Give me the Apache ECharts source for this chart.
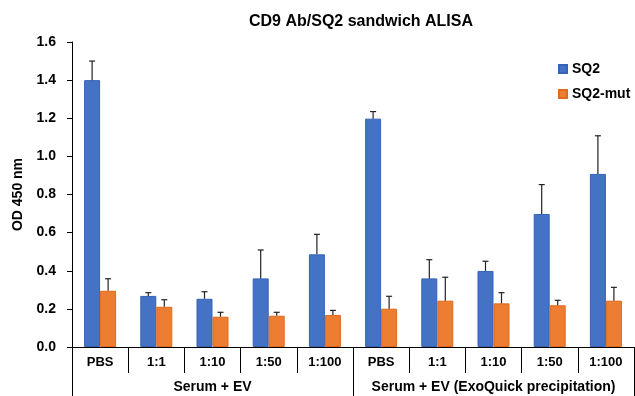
<!DOCTYPE html>
<html>
<head>
<meta charset="utf-8">
<script src="https://cdn.jsdelivr.net/npm/echarts@6/dist/echarts.min.js"></script>
<style>html,body{margin:0;padding:0;background:#fff}#c{width:635px;height:396px}</style>
</head>
<body>
<div id="c"></div>
<script>
var categories = ['PBS','1:1','1:10','1:50','1:100','PBS','1:1','1:10','1:50','1:100'];
var groups = ['Serum + EV','Serum + EV (ExoQuick precipitation)'];
var sq2 = [1.40,0.268,0.253,0.36,0.486,1.198,0.36,0.399,0.698,0.908];
var sq2Err = [0.10,0.017,0.037,0.149,0.105,0.037,0.098,0.051,0.154,0.20];
var sq2mut = [0.295,0.211,0.159,0.164,0.168,0.201,0.243,0.229,0.219,0.243];
var sq2mutErr = [0.063,0.037,0.023,0.018,0.024,0.065,0.123,0.056,0.026,0.07];
var yTicks = {min:0, max:1.6, interval:0.2};

var BAR_W = 16;
var FONT = 'Liberation Sans, Arial, sans-serif';
function errData(vals, errs){ return vals.map(function(v,i){ return [i, v, errs[i]]; }); }
function errRender(side){
  return function(params, api){
    var i = api.value(0), v = api.value(1), e = api.value(2);
    var base = api.coord([i, v]);
    var top = api.coord([i, v + e]);
    var x = base[0] + side * BAR_W / 2;
    var st = {stroke:'#222', lineWidth:1.2};
    return {type:'group', children:[
      {type:'line', shape:{x1:x, y1:base[1], x2:x, y2:top[1]}, style:st},
      {type:'line', shape:{x1:x-3, y1:top[1], x2:x+3, y2:top[1]}, style:st}
    ]};
  };
}
var chart = echarts.init(document.getElementById('c'));
chart.setOption({
  animation:false,
  textStyle:{fontFamily:FONT},
  title:{text:'CD9 Ab/SQ2 sandwich ALISA', left:356, top:9, textAlign:'center',
    textStyle:{fontSize:16, fontWeight:'bold', color:'#000', fontFamily:FONT}},
  legend:{orient:'vertical', left:553, top:57, itemGap:11, itemWidth:8, itemHeight:8, icon:'rect',
    textStyle:{fontSize:14, fontWeight:'bold', color:'#000', fontFamily:FONT},
    data:['SQ2','SQ2-mut']},
  grid:{left:72, right:1, top:42, bottom:49, containLabel:false},
  xAxis:[
    {type:'category', data:categories, boundaryGap:true,
     axisLine:{lineStyle:{color:'#000', width:1}},
     axisTick:{show:true, interval:0, length:26, lineStyle:{color:'#000'}},
     axisLabel:{interval:0, margin:9, fontSize:13, fontWeight:'bold', color:'#000', fontFamily:FONT}},
    {type:'category', data:groups, boundaryGap:true, position:'bottom',
     axisLine:{show:false},
     axisTick:{show:true, interval:0, length:49, lineStyle:{color:'#000'}},
     axisLabel:{interval:0, margin:33, fontSize:14, fontWeight:'bold', color:'#000', fontFamily:FONT}}
  ],
  yAxis:{type:'value', min:yTicks.min, max:yTicks.max, interval:yTicks.interval,
    name:'OD 450 nm', nameLocation:'middle', nameGap:47, nameRotate:90,
    nameTextStyle:{fontSize:14, fontWeight:'bold', color:'#000', fontFamily:FONT},
    axisLine:{show:true, lineStyle:{color:'#000'}},
    axisTick:{show:true, length:5, lineStyle:{color:'#000'}},
    splitLine:{show:false},
    axisLabel:{margin:16, fontSize:14, fontWeight:'bold', color:'#000', fontFamily:FONT,
      formatter:function(v){ return v.toFixed(1); }}},
  series:[
    {name:'SQ2', type:'bar', data:sq2, barWidth:BAR_W, barGap:'0%',
     itemStyle:{color:'#4472C4', borderColor:'#3563B5', borderWidth:1}},
    {name:'SQ2-mut', type:'bar', data:sq2mut, barWidth:BAR_W, barGap:'0%',
     itemStyle:{color:'#ED7D31', borderColor:'#E06A1E', borderWidth:1}},
    {type:'custom', renderItem:errRender(-1), data:errData(sq2, sq2Err), encode:{x:0, y:1}, z:5},
    {type:'custom', renderItem:errRender(1), data:errData(sq2mut, sq2mutErr), encode:{x:0, y:1}, z:5}
  ]
});
</script>
</body>
</html>
